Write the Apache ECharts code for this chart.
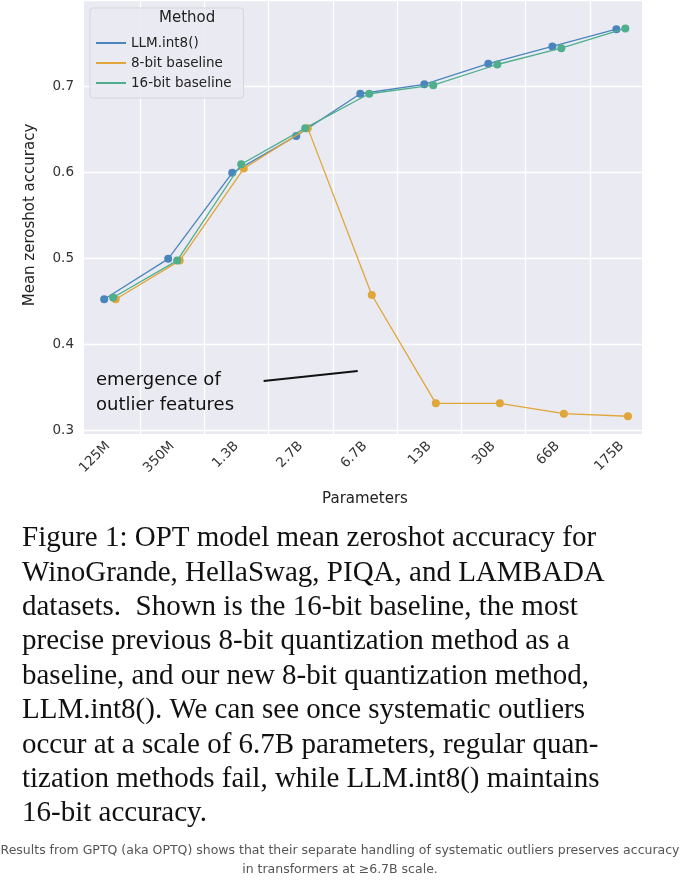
<!DOCTYPE html>
<html><head><meta charset="utf-8">
<script src="https://cdn.jsdelivr.net/npm/echarts@6/dist/echarts.min.js"></script>
<style>html,body{margin:0;padding:0;background:#fff}#c{width:680px;height:881px}</style>
</head><body><div id="c"></div>
<script>
const categories = ['125M','350M','1.3B','2.7B','6.7B','13B','30B','66B','175B'];
const seriesNames = ['LLM.int8()','8-bit baseline','16-bit baseline'];
const llmInt8 = [0.452,0.499,0.599,0.642,0.691,0.702,0.726,0.746,0.766];
const baseline8 = [0.452,0.497,0.604,0.651,0.457,0.331,0.331,0.319,0.316];
const baseline16 = [0.454,0.497,0.609,0.651,0.691,0.701,0.725,0.744,0.767];
const yTicks = [0.3,0.4,0.5,0.6,0.7];
const colors = ['#4a86bd','#e0a63a','#4fae8c'];
const dodge = [-0.06,0.12,0.08];
const captionLines = [
 'Figure 1: OPT model mean zeroshot accuracy for',
 'WinoGrande, HellaSwag, PIQA, and LAMBADA',
 'datasets.  Shown is the 16-bit baseline, the most',
 'precise previous 8-bit quantization method as a',
 'baseline, and our new 8-bit quantization method,',
 'LLM.int8(). We can see once systematic outliers',
 'occur at a scale of 6.7B parameters, regular quan-',
 'tization methods fail, while LLM.int8() maintains',
 '16-bit accuracy.'
];
const footer = ['Results from GPTQ (aka OPTQ) shows that their separate handling of systematic outliers preserves accuracy','in transformers at \u22656.7B scale.'];

const allSeries = [llmInt8, baseline8, baseline16];
const chart = echarts.init(document.getElementById('c'));
const series = allSeries.map((vals,k)=>({
  name: seriesNames[k], type:'line', xAxisIndex:0, yAxisIndex:0, z:3+k,
  data: vals.map((v,i)=>[i+dodge[k], v]),
  symbol:'circle', symbolSize:8, lineStyle:{width:1.3,color:colors[k]},
  itemStyle:{color:colors[k]}, emphasis:{disabled:true}
}));
series[0].markLine = {silent:true, symbol:'none', label:{show:false}, z:2,
  lineStyle:{type:[9,6],color:'#777',width:1.5},
  data:[[{coord:[4,0.8]},{coord:[4,0.295]}]]};
series[1].markLine = {silent:true, symbol:['none','arrow'], symbolSize:[0,16], label:{show:false},
  lineStyle:{type:'solid',color:'#111',width:2},
  data:[[{coord:[2.43,0.357]},{coord:[3.9,0.3685]}]]};
series.push({type:'line', xAxisIndex:1, yAxisIndex:1, data:[], silent:true});

const graphic = [
  {type:'rect', z:-10, shape:{x:84,y:0,width:558,height:434}, style:{fill:'#eaeaf2'}},
  {type:'text', left:159, top:11, style:{text:'Method', font:'15px "DejaVu Sans"', fill:'#222'}, z:100},
  {type:'text', left:96, top:368, style:{text:'emergence of\noutlier features', font:'18px "DejaVu Sans"', fill:'#111', lineHeight:25}, z:100}
];
captionLines.forEach((t,i)=>graphic.push({type:'text', left:22, top:524+i*34.4,
  style:{text:t, font:'29px "Liberation Serif"', fill:'#111'}}));
footer.forEach((t,i)=>graphic.push({type:'text', x:340, y:844+i*19,
  style:{text:t, font:'12.5px "DejaVu Sans"', fill:'#555', textAlign:'center'}}));

chart.setOption({
  animation:false, color:colors,
  grid:[{left:84,right:38,top:-7.5,bottom:451},{left:76,right:26,top:0,bottom:447}],
  xAxis:[
    {type:'value', gridIndex:0, min:-0.375, max:8.34, show:false},
    {type:'category', gridIndex:1, data:categories, boundaryGap:true,
     axisLine:{show:false}, axisTick:{show:false},
     splitLine:{show:true, interval:0, lineStyle:{color:'#fff',width:1.3}},
     axisLabel:{rotate:45, interval:0, margin:10, fontSize:13.5, color:'#333', fontFamily:'DejaVu Sans'},
     name:'Parameters', nameLocation:'middle', nameGap:58,
     nameTextStyle:{fontSize:15, color:'#222', fontFamily:'DejaVu Sans'}}
  ],
  yAxis:[
    {type:'value', gridIndex:0, min:0.3, max:0.8, interval:0.1,
     axisLine:{show:false}, axisTick:{show:false},
     splitLine:{lineStyle:{color:'#fff',width:1.3}},
     axisLabel:{margin:10, fontSize:13.5, color:'#333', fontFamily:'DejaVu Sans',
       formatter:v=> yTicks.some(t=>Math.abs(t-v)<1e-6) ? v.toFixed(1) : ''},
     name:'Mean zeroshot accuracy', nameLocation:'middle', nameGap:46,
     nameTextStyle:{fontSize:15, color:'#222', fontFamily:'DejaVu Sans'}},
    {type:'value', gridIndex:1, show:false}
  ],
  legend:{data:seriesNames, orient:'vertical', left:90, top:8, padding:[28,12,8,6],
    backgroundColor:'rgba(234,234,242,0.85)', borderColor:'#d5d5dd', borderWidth:1, borderRadius:3,
    itemWidth:30, itemHeight:2, itemGap:6, icon:'rect',
    textStyle:{fontSize:13.5, color:'#222', fontFamily:'DejaVu Sans'}},
  graphic: graphic,
  series: series
});
</script></body></html>
